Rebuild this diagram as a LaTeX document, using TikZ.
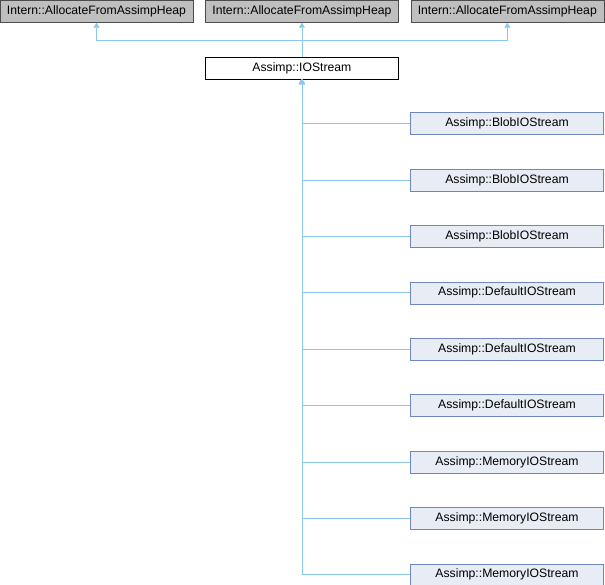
\documentclass[tikz,border=0pt]{standalone}
\usepackage{fontspec}
\setmainfont{Liberation Sans}
\usepackage{tikz}
\usetikzlibrary{positioning}
\usetikzlibrary{arrows.meta}
\usetikzlibrary{calc}

\definecolor{edgeblue}{RGB}{140,200,235}
\definecolor{heapgrey}{RGB}{191,191,191}
\definecolor{kidfill}{RGB}{232,236,244}
\definecolor{kidline}{RGB}{110,135,190}

\tikzset{
  box/.style={draw, minimum width=193pt, minimum height=22pt, inner sep=0pt,
    font=\fontsize{12.2}{14}\selectfont},
  heap/.style={box, fill=heapgrey, draw=black!70},
  base/.style={box, fill=white, draw=black},
  kid/.style={box, fill=kidfill, draw=kidline},
  inherit/.style={draw=edgeblue, line width=0.8pt,
    -{Triangle[length=5pt,width=6pt,fill=edgeblue]}},
}

\begin{document}
\begin{tikzpicture}[node distance=34pt and 12pt]
\useasboundingbox (0pt,0pt) rectangle (605pt,-584pt);
\node[heap] (h1) at (96.5pt,-11.5pt) {Intern::AllocateFromAssimpHeap};
\node[heap,right=of h1] (h2) {Intern::AllocateFromAssimpHeap};
\node[heap,right=of h2] (h3) {Intern::AllocateFromAssimpHeap};
\node[base,below=of h2] (io) {Assimp::IOStream};

\node[kid] (c1) at (507pt,-123.5pt) {Assimp::BlobIOStream};
\node[kid,below=of c1] (c2) {Assimp::BlobIOStream};
\node[kid,below=of c2] (c3) {Assimp::BlobIOStream};
\node[kid,below=of c3] (c4) {Assimp::DefaultIOStream};
\node[kid,below=of c4] (c5) {Assimp::DefaultIOStream};
\node[kid,below=of c5] (c6) {Assimp::DefaultIOStream};
\node[kid,below=of c6] (c7) {Assimp::MemoryIOStream};
\node[kid,below=of c7] (c8) {Assimp::MemoryIOStream};
\node[kid,below=of c8] (c9) {Assimp::MemoryIOStream};

% up to the heap bases
\coordinate (split) at ($(io.north)+(0,16pt)$);
\draw[inherit] (io.north) -- (h2.south);
\draw[inherit] (split) -| (h1.south);
\draw[inherit] (split) -| (h3.south);

% derived streams
\foreach \k in {1,...,9}
  \draw[inherit] (c\k.west) -| (io.south);
\end{tikzpicture}
\end{document}
